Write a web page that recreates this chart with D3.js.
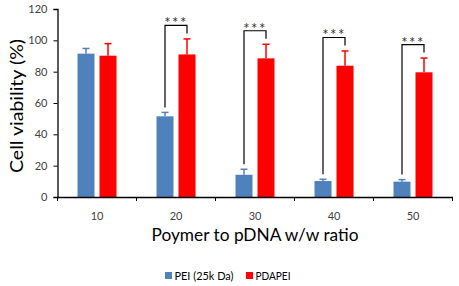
<!DOCTYPE html>
<html><head><meta charset="utf-8">
<script src="https://cdn.jsdelivr.net/npm/d3@7"></script>
<style>body{margin:0;background:#fff}svg{display:block}text{font-family:Lato,"Open Sans",sans-serif}</style>
</head><body><svg id="c" width="459" height="286"></svg>
<script>
const categories = ["10","20","30","40","50"];
const seriesNames = ["PEI (25k Da)","PDAPEI"];
const peiValues = [91.5, 51.5, 14.2, 10.2, 9.8];
const peiErrors = [3.3, 2.5, 3.5, 1.1, 1.3];
const pdapeiValues = [90.2, 91.0, 88.5, 83.8, 79.6];
const pdapeiErrors = [7.7, 9.9, 9.0, 9.4, 9.1];
const significance = ["", "***", "***", "***", "***"];
const yTicks = [0,20,40,60,80,100,120];
const colors = ["#4F81BD", "#FF0000"];

const svg = d3.select("#c");
const pLeft = 57.5, pRight = 452.5, pTop = 9, pBottom = 197;
const x = d3.scaleBand().domain(categories).range([pLeft, pRight]).padding(0);
const cw = x.bandwidth();
const xs = d3.scaleBand().domain(seriesNames).range([cw/2 - 19.5, cw/2 + 19.5]).paddingInner(5/22).paddingOuter(0);
const y = d3.scaleLinear().domain([0,120]).range([pBottom, pTop]);

const rows = categories.map((c,i)=>({c, vals:[
  {s:seriesNames[0], v:peiValues[i], e:peiErrors[i], col:colors[0]},
  {s:seriesNames[1], v:pdapeiValues[i], e:pdapeiErrors[i], col:colors[1]}], sig:significance[i]}));

// bars
const g = svg.append("g");
rows.forEach(r=>{
  r.vals.forEach(d=>{
    const bx = x(r.c) + xs(d.s);
    g.append("rect").attr("x", bx).attr("y", y(d.v)).attr("width", xs.bandwidth()).attr("height", y(0)-y(d.v)).attr("fill", d.col);
    const cx = bx + xs.bandwidth()/2;
    g.append("line").attr("x1",cx).attr("x2",cx).attr("y1",y(d.v)).attr("y2",y(d.v+d.e)).attr("stroke",d.col).attr("stroke-width",1.5);
    g.append("line").attr("x1",cx-3.5).attr("x2",cx+3.5).attr("y1",y(d.v+d.e)).attr("y2",y(d.v+d.e)).attr("stroke",d.col).attr("stroke-width",1.5);
  });
  if (r.sig) {
    const a = r.vals[0], b = r.vals[1];
    const ax = x(r.c) + xs(a.s) + xs.bandwidth()/2;
    const bx = x(r.c) + xs(b.s) + xs.bandwidth()/2;
    const topY = y(b.v+b.e) - 13.5;
    const path = d3.path();
    path.moveTo(ax, y(a.v+a.e) - 5);
    path.lineTo(ax, topY);
    path.lineTo(bx, topY);
    path.lineTo(bx, topY + 8);
    g.append("path").attr("d", path.toString()).attr("fill","none").attr("stroke","#000").attr("stroke-width",1.2);
    g.append("text").attr("x",(ax+bx)/2).attr("y",topY+3).attr("text-anchor","middle").attr("font-size",15).attr("fill","#333").attr("letter-spacing",1.5).text(r.sig);
  }
});

// y axis
const ya = svg.append("g").attr("transform",`translate(${pLeft},0)`)
  .call(d3.axisLeft(y).tickValues(yTicks).tickSize(4).tickPadding(6));
ya.select(".domain").attr("stroke","#000").attr("stroke-width",1.3);
ya.selectAll(".tick line").attr("stroke","#000");
ya.selectAll("text").attr("font-size",11).attr("fill","#404040").style("font-family","Lato,sans-serif");

// x axis
const xa = svg.append("g").attr("transform",`translate(0,${pBottom})`)
  .call(d3.axisBottom(x).tickSize(0).tickPadding(15));
xa.select(".domain").attr("stroke","#000").attr("stroke-width",1.3);
xa.selectAll("text").attr("font-size",11).attr("fill","#404040").style("font-family","Lato,sans-serif");
const bounds = categories.map(c=>x(c)).concat([pRight]);
xa.selectAll(".bnd").data(bounds).enter().append("line").attr("class","bnd")
  .attr("x1",d=>d).attr("x2",d=>d).attr("y1",0).attr("y2",4).attr("stroke","#000");

// titles
svg.append("text").attr("x",(pLeft+pRight)/2).attr("y",241).attr("text-anchor","middle").attr("font-size",18)
  .attr("textLength",207).attr("lengthAdjust","spacingAndGlyphs").attr("fill","#000").text("Poymer to pDNA w/w ratio");
svg.append("text").attr("transform",`translate(23,${(pTop+pBottom)/2+3}) rotate(-90)`).attr("text-anchor","middle").attr("font-size",18)
  .attr("textLength",134).attr("lengthAdjust","spacingAndGlyphs").attr("fill","#000").text("Cell viability (%)");

// legend
const lg = svg.append("g");
const lx = [165, 246];
const lw = [59, 35];
seriesNames.forEach((s,i)=>{
  lg.append("rect").attr("x",lx[i]).attr("y",272).attr("width",7).attr("height",7).attr("fill",colors[i]);
  lg.append("text").attr("x",lx[i]+9.5).attr("y",279.5).attr("font-size",12)
    .attr("textLength",lw[i]).attr("lengthAdjust","spacingAndGlyphs").attr("fill","#000").text(s);
});
</script></body></html>
